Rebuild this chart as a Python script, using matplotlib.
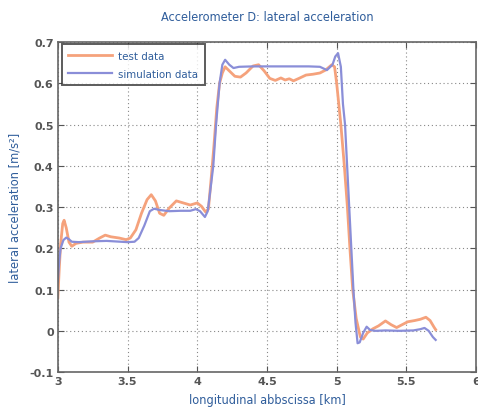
import matplotlib
matplotlib.use('Agg')
import matplotlib.pyplot as plt

# test data (orange)
test_x = [3.00, 3.01, 3.02, 3.035, 3.045, 3.06, 3.08, 3.10, 3.13, 3.18, 3.25, 3.30, 3.34, 3.38,
          3.44, 3.49, 3.52, 3.56, 3.60, 3.64, 3.67, 3.70, 3.73, 3.76, 3.80, 3.85, 3.90, 3.95,
          4.00, 4.03, 4.06, 4.08, 4.10, 4.12, 4.14, 4.16, 4.18, 4.20, 4.23, 4.27, 4.31, 4.35,
          4.40, 4.44, 4.48, 4.52, 4.56, 4.60, 4.63, 4.66, 4.69, 4.73, 4.78, 4.83, 4.88, 4.92,
          4.965, 4.985, 5.00, 5.03, 5.055, 5.077, 5.095, 5.115, 5.14, 5.17, 5.19, 5.22, 5.26,
          5.30, 5.35, 5.39, 5.43, 5.47, 5.51, 5.56, 5.60, 5.64, 5.67, 5.70, 5.71]
test_y = [0.08, 0.15, 0.21, 0.26, 0.268, 0.25, 0.215, 0.205, 0.212, 0.215, 0.215, 0.225, 0.232, 0.228,
          0.225, 0.221, 0.225, 0.245, 0.285, 0.318, 0.33, 0.315, 0.285, 0.28, 0.298, 0.315, 0.31, 0.305,
          0.31, 0.302, 0.288, 0.295, 0.37, 0.45, 0.54, 0.60, 0.625, 0.64, 0.63, 0.617, 0.615, 0.625,
          0.642, 0.645, 0.63, 0.612, 0.607, 0.613, 0.608, 0.611, 0.606, 0.612, 0.62, 0.622, 0.625, 0.632,
          0.645, 0.64, 0.60, 0.50, 0.40, 0.30, 0.20, 0.10, 0.03, -0.015, -0.02, -0.005, 0.005,
          0.012, 0.024, 0.015, 0.008, 0.015, 0.022, 0.025, 0.028, 0.033, 0.025, 0.008, 0.003]

# simulation data (blue)
sim_x = [3.00, 3.01, 3.02, 3.04, 3.06, 3.08, 3.10, 3.15, 3.25, 3.35, 3.45, 3.50, 3.55, 3.58,
         3.62, 3.66, 3.69, 3.73, 3.80, 3.88, 3.95, 3.99, 4.02, 4.055, 4.075, 4.09, 4.115, 4.135,
         4.16, 4.18, 4.20, 4.23, 4.26, 4.30, 4.40, 4.50, 4.60, 4.70, 4.80, 4.88, 4.93, 4.97,
         4.99, 5.01, 5.03, 5.045, 5.06, 5.09, 5.105, 5.12, 5.135, 5.15, 5.165, 5.19, 5.215, 5.24,
         5.28, 5.35, 5.45, 5.55, 5.60, 5.63, 5.66, 5.69, 5.71]
sim_y = [0.12, 0.17, 0.20, 0.22, 0.226, 0.222, 0.216, 0.215, 0.217, 0.218, 0.216, 0.215, 0.216, 0.225,
         0.255, 0.29, 0.296, 0.293, 0.29, 0.291, 0.291, 0.295, 0.29, 0.276, 0.29, 0.33, 0.40, 0.50,
         0.60, 0.645, 0.657, 0.645, 0.637, 0.64, 0.641, 0.641, 0.641, 0.641, 0.641, 0.640, 0.632, 0.645,
         0.665, 0.673, 0.64, 0.55, 0.50, 0.30, 0.20, 0.10, 0.02, -0.03, -0.028, -0.005, 0.01, 0.002,
         0.0, 0.001, 0.0, 0.001, 0.004, 0.007, 0.0, -0.015, -0.022]

x_ticks = [3, 3.5, 4, 4.5, 5, 5.5, 6]
x_tick_labels = ['3', '3.5', '4', '4.5', '5', '5.5', '6']
y_ticks = [-0.1, 0, 0.1, 0.2, 0.3, 0.4, 0.5, 0.6, 0.7]
y_tick_labels = ['-0.1', '0', '0.1', '0.2', '0.3', '0.4', '0.5', '0.6', '0.7']

plt.rcParams['font.family'] = ['DejaVu Sans']
plt.rcParams['font.stretch'] = 'condensed'
text_blue = '#2f5d9b'

fig = plt.figure(figsize=(4.78, 4.10), dpi=100)
ax = fig.add_axes([0.121, 0.09, 0.875, 0.805])

ax.plot(test_x, test_y, color='#f5a27c', lw=2.0, label='test data')
ax.plot(sim_x, sim_y, color='#8a8ed8', lw=1.6, label='simulation data')

ax.set_xlim(3, 6)
ax.set_ylim(-0.1, 0.7)
ax.set_xticks(x_ticks)
ax.set_xticklabels(x_tick_labels)
ax.set_yticks(y_ticks)
ax.set_yticklabels(y_tick_labels)
ax.tick_params(direction='in', top=True, right=True, length=4, width=0.8,
               labelsize=8, labelcolor='#555555', color='#555555', pad=3)
for lab in ax.get_xticklabels() + ax.get_yticklabels():
    lab.set_fontweight('bold')
    lab.set_fontstretch('normal')
ax.grid(True, linestyle=(0, (1, 2.5)), color='#888888', lw=0.8)
for sp in ax.spines.values():
    sp.set_color('#666666')
    sp.set_linewidth(1.2)

ax.set_title('Accelerometer D: lateral acceleration', color=text_blue, fontsize=9.1, pad=16)
ax.set_xlabel('longitudinal abbscissa [km]', color=text_blue, fontsize=9.1, labelpad=5)
ax.set_ylabel('lateral acceleration [m/s²]', color=text_blue, fontsize=9.2, labelpad=6)

leg = ax.legend(loc='upper left', bbox_to_anchor=(0.009, 0.995), borderaxespad=0,
                fontsize=8.2, frameon=True, fancybox=False, edgecolor='#333333',
                handlelength=3.8, handletextpad=0.55, borderpad=0.6, labelspacing=0.7)
leg.get_frame().set_linewidth(1.4)
for t in leg.get_texts():
    t.set_color(text_blue)

fig.savefig('out.png', dpi=100)
